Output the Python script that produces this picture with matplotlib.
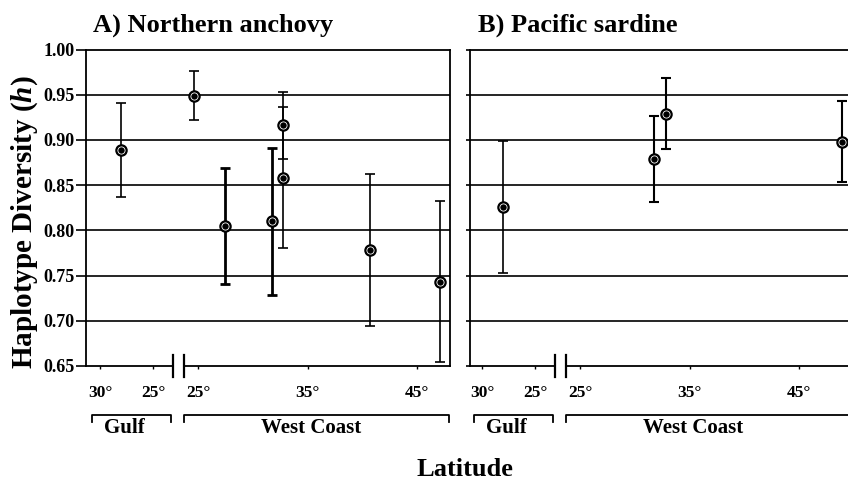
import numpy as np
import matplotlib
matplotlib.use("Agg")
import matplotlib.pyplot as plt
import matplotlib.transforms as mtransforms

plt.rcParams['font.family'] = ['Liberation Serif', 'DejaVu Serif']
plt.rcParams['font.weight'] = 'bold'
plt.rcParams['mathtext.fontset'] = 'custom'
plt.rcParams['mathtext.it'] = 'Liberation Serif:italic:bold'
plt.rcParams['mathtext.rm'] = 'Liberation Serif:bold'

# ---- data (latitude in degrees N, haplotype diversity h, +/- error) ----
anch_gulf_lat = [28.0]
anch_gulf_h = [0.889]
anch_gulf_err = [0.052]

anch_west_lat = [24.6, 27.5, 31.8, 32.8, 32.8, 40.7, 47.1]
anch_west_h = [0.949, 0.805, 0.810, 0.916, 0.858, 0.778, 0.743]
anch_west_err = [0.027, 0.064, 0.081, 0.037, 0.078, 0.084, 0.089]

sard_gulf_lat = [28.0]
sard_gulf_h = [0.826]
sard_gulf_err = [0.073]

sard_west_lat = [31.7, 32.8, 48.9]
sard_west_h = [0.879, 0.929, 0.898]
sard_west_err = [0.048, 0.039, 0.045]

gulf_tick_lat = [30, 25]
west_tick_lat = [25, 35, 45]
yticks = [0.65, 0.70, 0.75, 0.80, 0.85, 0.90, 0.95, 1.00]

# error bar widths (style only)
anch_west_lw = [1.2, 2.0, 2.0, 1.2, 1.2, 1.2, 1.2]


def gulf_x(lat):
    # Gulf of California axis runs reversed, placed left of the break
    return 20.9 + (25 - np.asarray(lat, dtype=float)) * 0.968


BREAK = (22.75, 23.75)

fig = plt.figure(figsize=(8.48, 4.8), dpi=100)
H = 480.0
W = 848.0
bottom = 1 - 366 / H
height = (366 - 49.5) / H
axA = fig.add_axes([86 / W, bottom, (450 - 86) / W, height])
axB = fig.add_axes([470 / W, bottom, (848 - 470) / W, height])


def draw_points(ax, x, h, err, lws):
    for xi, hi, ei, lw in zip(x, h, err, lws):
        ax.errorbar(xi, hi, yerr=ei, fmt='none', ecolor='black',
                    elinewidth=lw, capsize=3.6, capthick=lw, zorder=3)
    ax.plot(x, h, 'o', ms=7.4, mfc='white', mec='black', mew=1.6, zorder=4)
    ax.plot(x, h, 'o', ms=4.6, color='black', mew=0, zorder=5)


def setup(ax, xlim, show_labels, ytick_len, west_end, west_cap):
    ax.set_xlim(*xlim)
    ax.set_ylim(0.65, 1.00)
    for sp in ax.spines.values():
        sp.set_linewidth(1.3)
        sp.set_color('black')
    ax.spines['bottom'].set_visible(False)
    ax.set_yticks(yticks)
    for y in yticks[1:-1]:
        ax.axhline(y, color='black', lw=1.2, zorder=1)
    if show_labels:
        ax.set_yticklabels(['%.2f' % v for v in yticks], fontsize=13, fontweight='bold')
    else:
        ax.set_yticklabels([])
    ax.tick_params(axis='y', direction='out', length=ytick_len, width=1.2, pad=1)

    xt = list(gulf_x(gulf_tick_lat)) + west_tick_lat
    xl = ['%d\u00b0' % v for v in gulf_tick_lat] + ['%d\u00b0' % v for v in west_tick_lat]
    ax.set_xticks(xt)
    ax.set_xticklabels(xl, fontsize=12.5, fontweight='bold')
    ax.tick_params(axis='x', direction='out', length=2.5, width=1.0, pad=11)

    trans = mtransforms.blended_transform_factory(ax.transData, ax.transAxes)
    # broken bottom axis
    ax.plot([xlim[0], BREAK[0]], [0, 0], color='black', lw=1.3, transform=trans, clip_on=False)
    ax.plot([BREAK[1], xlim[1]], [0, 0], color='black', lw=1.3, transform=trans, clip_on=False)
    for bx in BREAK:
        ax.plot([bx, bx], [-0.035, 0.035], color='black', lw=1.6, transform=trans, clip_on=False)

    # region brackets
    def bracket(x0, x1, label, xc, right_cap=True):
        xs = [x0, x0, x1, x1] if right_cap else [x0, x0, x1]
        ys = [-0.177, -0.155, -0.155, -0.177] if right_cap else [-0.177, -0.155, -0.155]
        ax.plot(xs, ys, color='black', lw=1.3, transform=trans, clip_on=False)
        ax.text(xc, -0.197, label, transform=trans, ha='center', va='center',
                fontsize=15, fontweight='bold')

    bracket(15.33, 22.5, 'Gulf', 18.3)
    bracket(23.68, west_end, 'West Coast', 35.3, west_cap)


setup(axA, (14.77, 48.01), True, 7, 47.95, True)
setup(axB, (14.97, 49.43), False, 3, 50.5, False)
axB.spines['right'].set_visible(False)

draw_points(axA, gulf_x(anch_gulf_lat), anch_gulf_h, anch_gulf_err, [1.2])
draw_points(axA, anch_west_lat, anch_west_h, anch_west_err, anch_west_lw)
draw_points(axB, gulf_x(sard_gulf_lat), sard_gulf_h, sard_gulf_err, [1.2])
draw_points(axB, sard_west_lat, sard_west_h, sard_west_err, [1.5] * len(sard_west_lat))

fig.text(93 / W, 1 - 31.5 / H, 'A) Northern anchovy', fontsize=19, fontweight='bold',
         ha='left', va='baseline')
fig.text(478 / W, 1 - 31.5 / H, 'B) Pacific sardine', fontsize=19, fontweight='bold',
         ha='left', va='baseline')
fig.text(25 / W, 1 - 222 / H, r'Haplotype Diversity ($\mathit{h}$)', fontsize=21,
         fontweight='bold', rotation=90, ha='center', va='center')
fig.text(465 / W, 1 - 470 / H, 'Latitude', fontsize=19, fontweight='bold',
         ha='center', va='center')

fig.savefig('out.png', dpi=100)
